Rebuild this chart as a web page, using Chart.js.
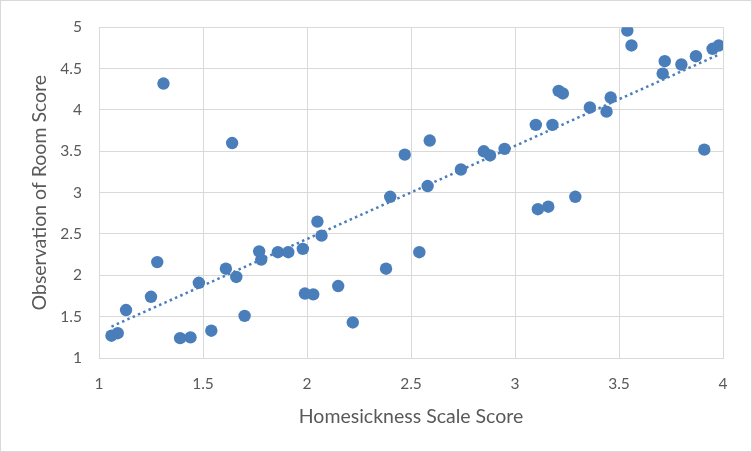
<!DOCTYPE html>
<html>
<head>
<meta charset="utf-8">
<script src="https://cdn.jsdelivr.net/npm/chart.js@4"></script>
<style>
  body { margin: 0; background: #fff; }
  .box { width: 752px; height: 452px; box-sizing: border-box; border: 1px solid #d9d9d9; }
</style>
</head>
<body>
<div class="box"><canvas id="chart" width="750" height="450"></canvas></div>
<script>
// Homesickness scale score (x) and observation of room score (y)
const homesick = [1.06, 1.09, 1.13, 1.25, 1.28, 1.31, 1.39, 1.44, 1.48, 1.54,
  1.61, 1.64, 1.66, 1.70, 1.77, 1.78, 1.86, 1.91, 1.98, 1.99,
  2.03, 2.05, 2.07, 2.15, 2.22, 2.38, 2.40, 2.47, 2.54, 2.58,
  2.59, 2.74, 2.85, 2.88, 2.95, 3.10, 3.11, 3.16, 3.18, 3.21,
  3.23, 3.29, 3.36, 3.44, 3.46, 3.54, 3.56, 3.71, 3.72, 3.80,
  3.87, 3.91, 3.95, 3.98]
const roomScore = [1.27, 1.30, 1.58, 1.74, 2.16, 4.32, 1.24, 1.25, 1.91, 1.33,
  2.08, 3.60, 1.98, 1.51, 2.29, 2.19, 2.28, 2.28, 2.32, 1.78,
  1.77, 2.65, 2.48, 1.87, 1.43, 2.08, 2.95, 3.46, 2.28, 3.08,
  3.63, 3.28, 3.50, 3.45, 3.53, 3.82, 2.80, 2.83, 3.82, 4.23,
  4.20, 2.95, 4.03, 3.98, 4.15, 4.96, 4.78, 4.44, 4.59, 4.55,
  4.65, 3.52, 4.74, 4.78]

// linear trendline ends
const trendX = [1.06, 3.98]
const trendY = [1.38, 4.67]

const xTicks = [1, 1.5, 2, 2.5, 3, 3.5, 4]
const yTicks = [1, 1.5, 2, 2.5, 3, 3.5, 4, 4.5, 5]

const points = homesick.map((x, i) => ({ x: x, y: roomScore[i] }))
const trend = trendX.map((x, i) => ({ x: x, y: trendY[i] }))

const blue = '#4a7ebb'
const grey = '#595959'
const gridColor = '#d9d9d9'
const tickFont = { family: 'Lato', size: 15.5 }
const titleFont = { family: 'Lato', size: 19.5 }

new Chart(document.getElementById('chart'), {
  type: 'scatter',
  data: {
    datasets: [
      {
        label: 'Observations',
        data: points,
        backgroundColor: blue,
        borderWidth: 0,
        pointRadius: 6.2,
        order: 1
      },
      {
        type: 'line',
        label: 'Linear trend',
        data: trend,
        borderColor: blue,
        borderWidth: 2.5,
        borderDash: [2.5, 3.3],
        pointRadius: 0,
        fill: false,
        order: 2
      }
    ]
  },
  options: {
    responsive: false,
    animation: false,
    layout: { padding: { left: 27, right: 28, top: 23, bottom: 0 } },
    plugins: { legend: { display: false }, tooltip: { enabled: false } },
    scales: {
      x: {
        type: 'linear',
        min: 1, max: 4,
        afterBuildTicks: function(scale) { scale.ticks = xTicks.map(v => ({ value: v })) },
        ticks: { color: grey, font: tickFont, padding: 17, callback: v => String(v) },
        grid: { color: gridColor, drawTicks: false },
        border: { color: gridColor },
        title: { display: true, text: 'Homesickness Scale Score', color: grey,
          font: titleFont, padding: { top: 4, bottom: 23 } },
        afterFit: function(scale) { scale.height = 93 }
      },
      y: {
        min: 1, max: 5,
        afterBuildTicks: function(scale) { scale.ticks = yTicks.map(v => ({ value: v })) },
        ticks: { color: grey, font: tickFont, padding: 17, callback: v => String(v) },
        grid: { color: gridColor, drawTicks: false },
        border: { color: gridColor },
        title: { display: true, text: 'Observation of Room Score', color: grey,
          font: titleFont, padding: { top: 0, bottom: 4 } },
        afterFit: function(scale) { scale.width = 71 }
      }
    }
  }
})
</script>
</body>
</html>
